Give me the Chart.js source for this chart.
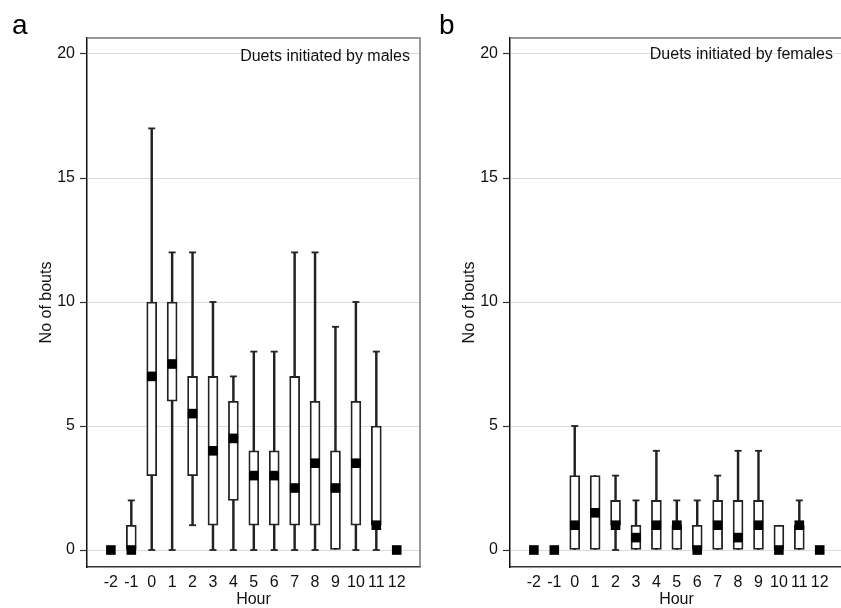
<!DOCTYPE html>
<html>
<head>
<meta charset="utf-8">
<script src="https://cdn.jsdelivr.net/npm/chart.js@4.4.1/dist/chart.umd.min.js"></script>
<style>
  html, body { margin:0; padding:0; background:#fff; width:841px; height:608px; overflow:hidden; }
  body { position:relative; font-family:'Liberation Sans', Arial, Helvetica, sans-serif; }
  canvas { position:absolute; top:0; }
  #ca { left:0; }
  #cb { left:423px; }
  .letter { position:absolute; font-size:28px; line-height:28px; color:#000; }
</style>
</head>
<body>
<canvas id="ca" width="430" height="608"></canvas>
<canvas id="cb" width="430" height="608"></canvas>
<div class="letter" style="left:12px; top:11px;">a</div>
<div class="letter" style="left:439px; top:11px;">b</div>
<script>
const hours = [-2,-1,0,1,2,3,4,5,6,7,8,9,10,11,12];
const yTicks = [0,5,10,15,20];

// Duets initiated by males
const maleMin = [0,0,0,0,1,0,0,0,0,0,0,0,0,0,0];
const maleQ1  = [0,0,3,6,3,1,2,1,1,1,1,0,1,1,0];
const maleMed = [0,0,7,7.5,5.5,4,4.5,3,3,2.5,3.5,2.5,3.5,1,0];
const maleQ3  = [0,1,10,10,7,7,6,4,4,7,6,4,6,5,0];
const maleMax = [0,2,17,12,12,10,7,8,8,12,12,9,10,8,0];

// Duets initiated by females
const femMin = [0,0,0,0,0,0,0,0,0,0,0,0,0,0,0];
const femQ1  = [0,0,0,0,1,0,0,0,0,0,0,0,0,0,0];
const femMed = [0,0,1,1.5,1,0.5,1,1,0,1,0.5,1,0,1,0];
const femQ3  = [0,0,3,3,2,1,2,1,1,2,2,2,1,1,0];
const femMax = [0,0,5,3,3,2,4,2,2,3,4,4,1,2,0];

const FONT = "'Liberation Sans', Arial, Helvetica, sans-serif";
const INK = '#222';

function makePanel(id, mins, q1s, meds, q3s, maxs, label, baseline) {
  const whiskers = [], boxes = [], caps = [], medians = [];
  hours.forEach((h, i) => {
    if (mins[i] < maxs[i]) whiskers.push({x: h, y: [mins[i], maxs[i]]});
    if (q1s[i] < q3s[i]) boxes.push({x: h, y: [q1s[i], q3s[i]]});
    if (mins[i] < q1s[i]) caps.push({x: h, y: mins[i]});
    if (maxs[i] > q3s[i]) caps.push({x: h, y: maxs[i]});
    medians.push({x: h, y: meds[i]});
  });

  const frame = {
    id: 'frame',
    afterDatasetsDraw(chart) {
      const {ctx, chartArea: a} = chart;
      ctx.save();
      ctx.strokeStyle = '#777';
      ctx.lineWidth = 1.5;
      ctx.beginPath();
      ctx.moveTo(a.left, a.top);
      ctx.lineTo(a.right, a.top);
      ctx.lineTo(a.right, a.bottom);
      ctx.stroke();
      ctx.fillStyle = '#111';
      ctx.font = '16px ' + FONT;
      ctx.textAlign = 'right';
      ctx.textBaseline = 'alphabetic';
      ctx.fillText(label, a.right - 10, baseline);
      ctx.restore();
    }
  };

  return new Chart(document.getElementById(id), {
    type: 'bar',
    data: {
      datasets: [
        { type: 'bar', data: whiskers, backgroundColor: INK, borderWidth: 0,
          barThickness: 1.8, grouped: false, order: 3 },
        { type: 'bar', data: boxes, backgroundColor: '#fff', borderColor: INK,
          borderWidth: 1.8, borderSkipped: false, barThickness: 10, grouped: false, order: 2 },
        { type: 'line', data: caps, showLine: false, pointStyle: 'line', pointRadius: 3.5,
          pointBorderWidth: 1.8, pointBorderColor: INK, order: 1 },
        { type: 'line', data: medians, showLine: false, pointStyle: 'rect', pointRadius: 6.8,
          pointBackgroundColor: '#000', pointBorderWidth: 0, order: 0 }
      ]
    },
    options: {
      responsive: false,
      animation: false,
      events: [],
      layout: { padding: { top: 38, right: 10, bottom: 0, left: 0 } },
      plugins: { legend: { display: false }, tooltip: { enabled: false } },
      scales: {
        x: {
          type: 'linear',
          offset: false,
          min: -3.17, max: 13.14,
          afterBuildTicks: s => { s.ticks = hours.map(v => ({value: v})); },
          afterFit: s => { s.height = 41; },
          grid: { display: false, drawTicks: false, offset: false },
          border: { display: true, color: '#333', width: 1.5 },
          ticks: { autoSkip: false, maxRotation: 0, padding: 6, color: '#111',
                   font: { family: FONT, size: 16 }, callback: v => String(v) },
          title: { display: true, text: 'Hour', color: '#111',
                   font: { family: FONT, size: 16, lineHeight: 1 }, padding: { top: 0, bottom: 0 } }
        },
        y: {
          type: 'linear',
          min: -0.685, max: 20.645,
          afterBuildTicks: s => { s.ticks = yTicks.map(v => ({value: v})); },
          afterFit: s => { s.width = 87; },
          grid: { color: '#dcdcdc', lineWidth: 1, drawTicks: true, tickLength: 7,
                  tickColor: '#333', tickWidth: 1.2 },
          border: { display: true, color: '#111', width: 1.5 },
          ticks: { padding: 5, color: '#111', font: { family: FONT, size: 16 } },
          title: { display: true, text: 'No of bouts', color: '#111',
                   font: { family: FONT, size: 16, lineHeight: 1 }, padding: { top: 39, bottom: 0 } }
        }
      }
    },
    plugins: [frame]
  });
}

makePanel('ca', maleMin, maleQ1, maleMed, maleQ3, maleMax, 'Duets initiated by males', 61);
makePanel('cb', femMin, femQ1, femMed, femQ3, femMax, 'Duets initiated by females', 59);
</script>
</body>
</html>
